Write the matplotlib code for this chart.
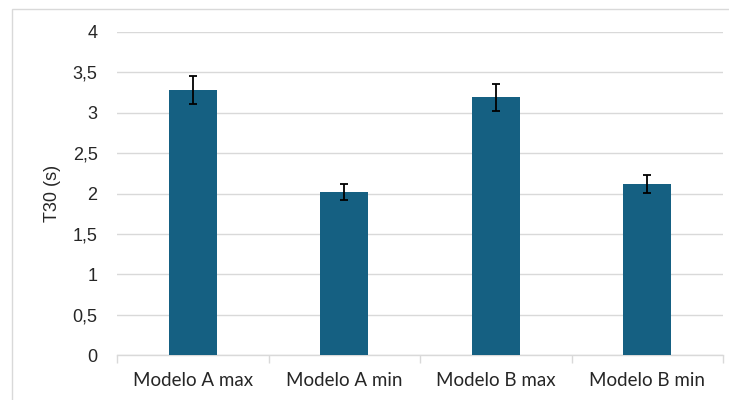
import numpy as np
import matplotlib
matplotlib.use('Agg')
from matplotlib import pyplot as plt
from matplotlib.ticker import FuncFormatter, FixedLocator
from matplotlib.patches import Rectangle

categories = ['Modelo A max', 'Modelo A min', 'Modelo B max', 'Modelo B min']
t30 = [3.28, 2.02, 3.19, 2.12]
t30_err = [0.17, 0.10, 0.165, 0.11]

plt.rcParams['font.family'] = ['Liberation Sans', 'DejaVu Sans']

fig = plt.figure(figsize=(7.29, 4.0), dpi=100)
ax = fig.add_axes([117 / 729, 1 - 355 / 400, 606 / 729, 323 / 400])

x = np.arange(len(categories))
ax.bar(x, t30, width=0.32, color='#156082', zorder=3)
ax.errorbar(x, t30, yerr=t30_err, fmt='none', ecolor='black', elinewidth=1.3,
            capsize=3.2, capthick=1.3, zorder=4)

ax.set_xlim(-0.5, len(categories) - 0.5)
ax.set_ylim(0, 4)
ax.set_yticks(np.arange(0, 4.01, 0.5))
ax.yaxis.set_major_formatter(FuncFormatter(
    lambda v, p: ('%g' % v).replace('.', ',')))
ax.grid(axis='y', color='#d9d9d9', lw=1, zorder=0)
ax.tick_params(axis='y', length=0, pad=14, labelsize=13, labelcolor='#262626')

# category labels, ticks on the boundaries
ax.set_xticks(x)
ax.set_xticklabels(categories, fontsize=13.5, color='#262626', family=['Lato', 'DejaVu Sans'])
ax.tick_params(axis='x', length=0, pad=12)
ax.xaxis.set_minor_locator(FixedLocator(np.arange(-0.5, len(categories), 1)))
ax.tick_params(axis='x', which='minor', length=6, color='#d9d9d9', width=1)

for s in ['top', 'right', 'left']:
    ax.spines[s].set_visible(False)
ax.spines['bottom'].set_color('#d9d9d9')
ax.spines['bottom'].set_linewidth(1)

ax.set_ylabel('T30 (s)', fontsize=13, color='#262626', labelpad=8)

fig.patches.append(Rectangle((12 / 729, -0.05), 1.1, 1 - 9 / 400 + 0.05,
                             transform=fig.transFigure, fill=False,
                             edgecolor='#d9d9d9', lw=1))

fig.savefig('out.png', dpi=100)
